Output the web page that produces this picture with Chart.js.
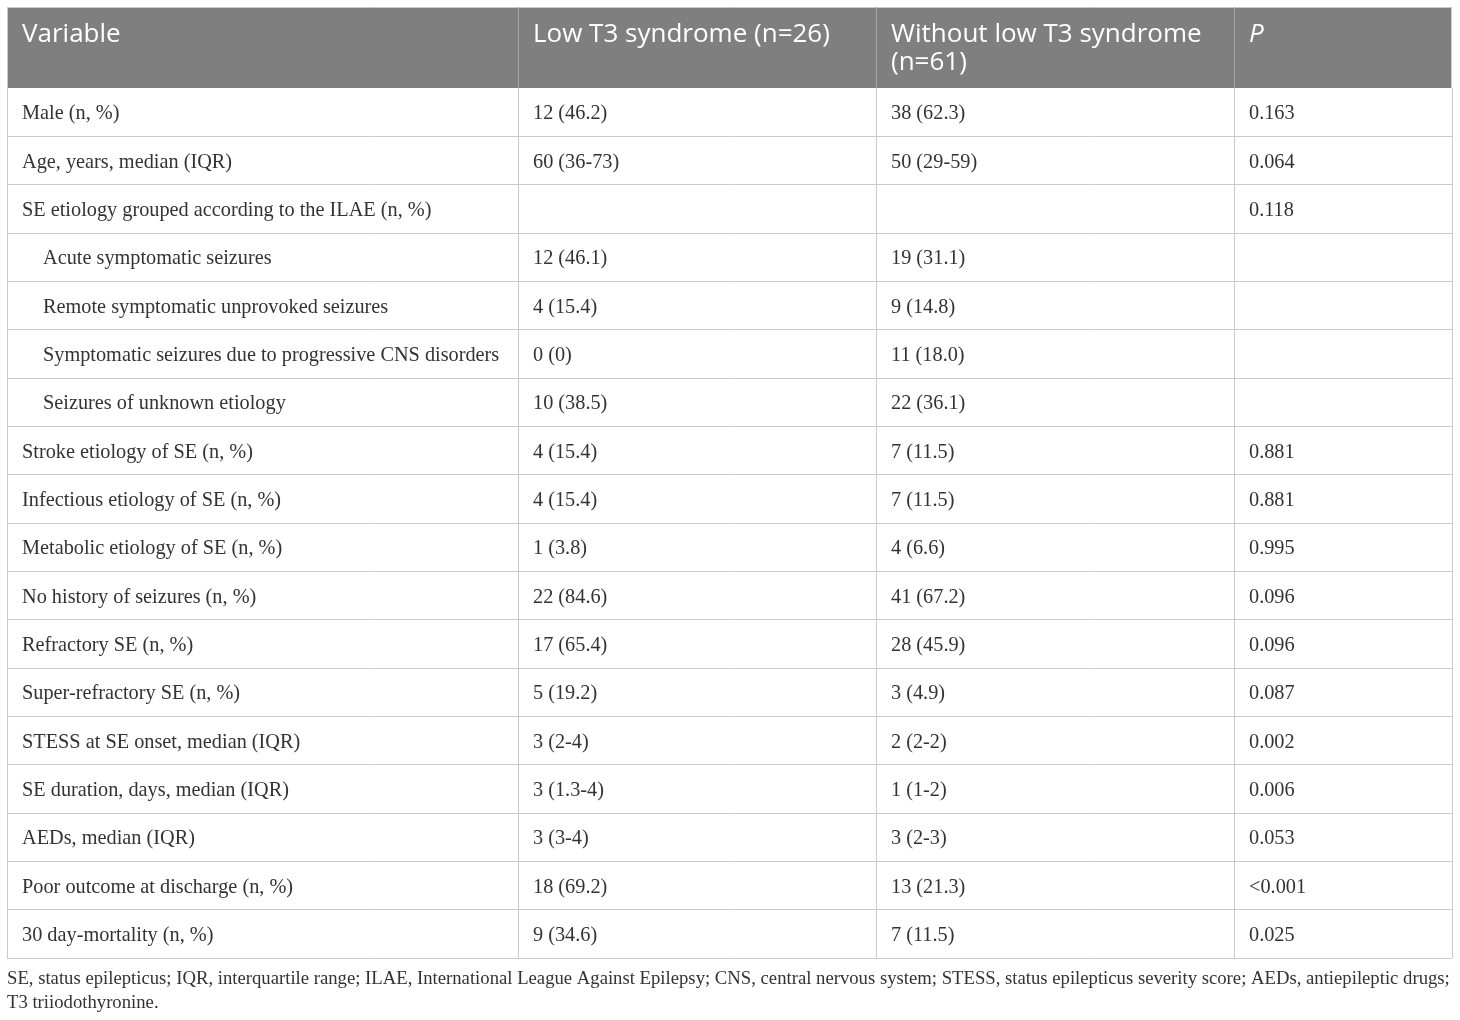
<!DOCTYPE html>
<html>
<head>
<meta charset="utf-8">
<script src="https://cdn.jsdelivr.net/npm/chart.js@4.4.1/dist/chart.umd.min.js"></script>
<style>
  body { margin: 0; background: #ffffff; }
  canvas { display: block; }
</style>
</head>
<body>
<canvas id="tableChart" width="1460" height="1020"></canvas>
<script>
// Données du tableau
const headers = ['Variable', 'Low T3 syndrome (n=26)', 'Without low T3 syndrome|(n=61)', 'P'];

const variables = [
    'Male (n, %)',
    'Age, years, median (IQR)',
    'SE etiology grouped according to the ILAE (n, %)',
    'Acute symptomatic seizures',
    'Remote symptomatic unprovoked seizures',
    'Symptomatic seizures due to progressive CNS disorders',
    'Seizures of unknown etiology',
    'Stroke etiology of SE (n, %)',
    'Infectious etiology of SE (n, %)',
    'Metabolic etiology of SE (n, %)',
    'No history of seizures (n, %)',
    'Refractory SE (n, %)',
    'Super-refractory SE (n, %)',
    'STESS at SE onset, median (IQR)',
    'SE duration, days, median (IQR)',
    'AEDs, median (IQR)',
    'Poor outcome at discharge (n, %)',
    '30 day-mortality (n, %)'
];

const lowT3 = ['12 (46.2)', '60 (36-73)', '', '12 (46.1)', '4 (15.4)', '0 (0)', '10 (38.5)', '4 (15.4)', '4 (15.4)',
    '1 (3.8)', '22 (84.6)', '17 (65.4)', '5 (19.2)', '3 (2-4)', '3 (1.3-4)', '3 (3-4)', '18 (69.2)', '9 (34.6)'];

const withoutLowT3 = ['38 (62.3)', '50 (29-59)', '', '19 (31.1)', '9 (14.8)', '11 (18.0)', '22 (36.1)', '7 (11.5)', '7 (11.5)',
    '4 (6.6)', '41 (67.2)', '28 (45.9)', '3 (4.9)', '2 (2-2)', '1 (1-2)', '3 (2-3)', '13 (21.3)', '7 (11.5)'];

const pValues = ['0.163', '0.064', '0.118', '', '', '', '', '0.881', '0.881', '0.995', '0.096', '0.096', '0.087',
    '0.002', '0.006', '0.053', '<0.001', '0.025'];

// Lignes en retrait (sous-catégories de l'étiologie)
const subRows = [3, 4, 5, 6];

const footnote = [
    'SE, status epilepticus; IQR, interquartile range; ILAE, International League Against Epilepsy; CNS, central nervous system; STESS, status epilepticus severity score; AEDs, antiepileptic drugs;',
    'T3 triiodothyronine.'
];

// Mise en page : bords des colonnes (unités de l'axe x)
const colEdges = [0, 511, 869, 1227, 1445];

const gridColor = '#cbcbcb';
const textColor = '#333333';

// Plugin pour écrire le texte des cellules, l'en-tête et la note
const tablePlugin = {
    id: 'tableText',
    afterDraw(chart) {
        const ctx = chart.ctx;
        const xScale = chart.scales.x;
        const yScale = chart.scales.y;
        const area = chart.chartArea;
        const top = 7;

        ctx.save();

        // En-tête gris
        ctx.fillStyle = '#7f7f7f';
        ctx.fillRect(area.left, top, area.right - area.left, area.top - top);
        ctx.strokeStyle = gridColor;
        ctx.lineWidth = 1;
        ctx.beginPath();
        ctx.moveTo(area.left, top + 0.5);
        ctx.lineTo(area.right, top + 0.5);
        ctx.moveTo(area.left + 0.5, top);
        ctx.lineTo(area.left + 0.5, area.top);
        ctx.moveTo(area.right - 0.5, top);
        ctx.lineTo(area.right - 0.5, area.top);
        ctx.stroke();

        ctx.strokeStyle = '#a3a3a3';
        ctx.beginPath();
        for (let c = 1; c < colEdges.length - 1; c++) {
            const px = Math.round(xScale.getPixelForValue(colEdges[c])) + 0.5;
            ctx.moveTo(px, top);
            ctx.lineTo(px, area.top);
        }
        ctx.stroke();

        ctx.fillStyle = '#ffffff';
        ctx.textBaseline = 'middle';
        ctx.textAlign = 'left';
        headers.forEach((h, c) => {
            const px = xScale.getPixelForValue(colEdges[c]) + 15;
            ctx.font = (c === 3 ? 'italic ' : '') + '26px "Open Sans", sans-serif';
            h.split('|').forEach((line, k) => {
                ctx.fillText(line, px, 35 + k * 28);
            });
        });

        // Cellules du corps
        ctx.fillStyle = textColor;
        ctx.font = '20.3px "Liberation Serif", "Times New Roman", serif';
        const columns = [variables, lowT3, withoutLowT3, pValues];
        variables.forEach((v, i) => {
            const py = yScale.getPixelForValue(i) + 2;
            columns.forEach((col, c) => {
                let px = xScale.getPixelForValue(colEdges[c]) + 15;
                if (c === 0 && subRows.includes(i)) {
                    px += 21;
                }
                ctx.fillText(col[i], px, py);
            });
        });

        // Note de bas de tableau
        ctx.font = '18.7px "Liberation Serif", "Times New Roman", serif';
        footnote.forEach((line, k) => {
            ctx.fillText(line, area.left, area.bottom + 21 + k * 24);
        });

        ctx.restore();
    }
};

const ctx = document.getElementById('tableChart').getContext('2d');
const tableChart = new Chart(ctx, {
    type: 'bar',
    data: {
        labels: variables,
        datasets: [{
            label: 'Tableau',
            data: variables.map(() => null)
        }]
    },
    plugins: [tablePlugin],
    options: {
        indexAxis: 'y',
        responsive: false,
        animation: false,
        devicePixelRatio: 1,
        layout: {
            padding: { left: 7, right: 8, top: 88, bottom: 62 }
        },
        plugins: {
            legend: { display: false },
            tooltip: { enabled: false }
        },
        scales: {
            x: {
                type: 'linear',
                min: colEdges[0],
                max: colEdges[colEdges.length - 1],
                afterBuildTicks: (scale) => {
                    scale.ticks = colEdges.map(v => ({ value: v }));
                },
                ticks: { display: false },
                grid: { color: gridColor, lineWidth: 1, drawTicks: false },
                border: { display: false }
            },
            y: {
                type: 'category',
                offset: true,
                ticks: { display: false },
                grid: { color: gridColor, lineWidth: 1, drawTicks: false, offset: true },
                border: { display: false }
            }
        }
    }
});
</script>
</body>
</html>
